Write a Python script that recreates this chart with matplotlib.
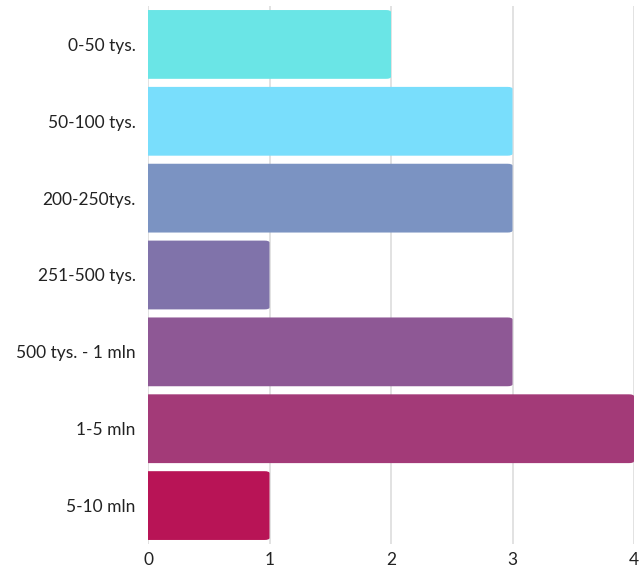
import matplotlib
matplotlib.use("Agg")
import matplotlib.pyplot as plt
from matplotlib.patches import FancyBboxPatch

categories = ["0-50 tys.", "50-100 tys.", "200-250tys.", "251-500 tys.",
              "500 tys. - 1 mln", "1-5 mln", "5-10 mln"]
values = [2, 3, 3, 1, 3, 4, 1]
colors = ["#6AE5E6", "#79DEFC", "#7B93C2", "#8073AA", "#8E5895", "#A33A78", "#B81456"]
xticks = [0, 1, 2, 3, 4]

plt.rcParams['font.family'] = ['Lato', 'DejaVu Sans']

fig = plt.figure(figsize=(6.41, 5.69), dpi=100)
ax = fig.add_axes([148/641, 25/569, 486/641, 538/569])

bars = ax.barh(range(len(categories)), values, height=0.895, color=colors)
ax.set_xlim(0, 4)
ax.set_ylim(len(categories) - 0.5, -0.5)

# rounded corners: replace rectangles by fancy boxes (aspect-corrected)
x_px = 486 / 4.0
y_px = 538 / 7.0
aspect = x_px / y_px
r = 5 / x_px
for b in bars:
    x0, y0 = b.get_x(), b.get_y()
    w, h = b.get_width(), b.get_height()
    p = FancyBboxPatch((x0 - 0.1, y0), w + 0.1, h,
                       boxstyle=f"round,pad=0,rounding_size={r}",
                       mutation_aspect=1/aspect,
                       facecolor=b.get_facecolor(), edgecolor='none', zorder=3)
    ax.add_patch(p)
    b.set_visible(False)

ax.set_xticks(xticks)
ax.set_xticklabels([str(t) for t in xticks])
ax.set_yticks(range(len(categories)))
ax.set_yticklabels(categories)
ax.grid(axis='x', color='#DDDDDD', linewidth=1.2, zorder=0)
ax.set_axisbelow(True)
for s in ax.spines.values():
    s.set_visible(False)
ax.tick_params(axis='both', length=0, labelsize=12.5, labelcolor='#222222')
ax.tick_params(axis='x', pad=6)
ax.tick_params(axis='y', pad=9)

fig.savefig("out.png", dpi=100, facecolor='white')
